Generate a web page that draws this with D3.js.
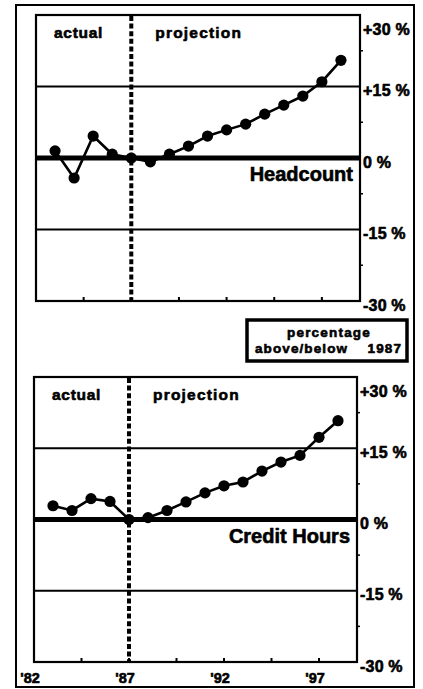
<!DOCTYPE html>
<html>
<head>
<meta charset="utf-8">
<script src="https://cdn.jsdelivr.net/npm/d3@7"></script>
<style>
  html, body { margin: 0; padding: 0; background: #fff; }
  svg { display: block; }
  text { font-family: "Liberation Sans", Arial, Helvetica, sans-serif; font-weight: bold; fill: #000;
         stroke: #000; stroke-width: 0.6px; stroke-linejoin: round; }
</style>
</head>
<body>
<svg id="chart" width="423" height="689"></svg>
<script>
// Years on the horizontal axis
const years = [1983, 1984, 1985, 1986, 1987, 1988, 1989, 1990, 1991, 1992,
               1993, 1994, 1995, 1996, 1997, 1998];

// Percentage above/below 1987
const headcount = [1.5, -4.2, 4.6, 0.8, 0, -0.8, 0.8, 2.5, 4.6, 5.9,
                   7.1, 9.2, 11.1, 13.0, 16.0, 20.5];
const creditHours = [2.9, 1.9, 4.4, 3.8, 0, 0.4, 1.9, 3.7, 5.6, 7.1,
                     7.9, 10.2, 12.1, 13.5, 17.3, 20.8];

const baseYear = 1987;
const yearDomain = [1982, 1999];
const yearTicks = [1982, 1987, 1992, 1997];
const minorYearTicks = [1984.5, 1987, 1989.5, 1992, 1994.5, 1997];
const pctTicks = [30, 15, 0, -15, -30];
const minorPctTicks = [22.5, 7.5, -7.5, -22.5];
const pctLabels = ["+30 %", "+15 %", "0 %", "-15 %", "-30 %"];

const svg = d3.select("#chart");

// outer frame
svg.append("rect")
  .attr("x", 16).attr("y", 5).attr("width", 398).attr("height", 682)
  .attr("fill", "none").attr("stroke", "#000").attr("stroke-width", 2);

function panel(cfg) {
  const x = d3.scaleLinear().domain(yearDomain).range([cfg.left, cfg.right]);
  const y = d3.scaleLinear().domain([30, -30]).range([cfg.top, cfg.bottom]);
  const g = svg.append("g");

  // gridlines at +/-15
  g.selectAll("line.grid").data([15, -15]).join("line")
    .attr("x1", cfg.left).attr("x2", cfg.right)
    .attr("y1", d => y(d)).attr("y2", d => y(d))
    .attr("stroke", "#000").attr("stroke-width", 2);

  // plot box
  g.append("rect")
    .attr("x", cfg.left).attr("y", cfg.top)
    .attr("width", cfg.right - cfg.left).attr("height", cfg.bottom - cfg.top)
    .attr("fill", "none").attr("stroke", "#000").attr("stroke-width", 2.2);

  // minor ticks on the bottom edge
  g.selectAll("line.xtick").data(minorYearTicks).join("line")
    .attr("x1", d => x(d)).attr("x2", d => x(d))
    .attr("y1", cfg.bottom).attr("y2", cfg.bottom - 4)
    .attr("stroke", "#000").attr("stroke-width", 2);

  // minor ticks on the right edge
  g.selectAll("line.ytick").data(minorPctTicks).join("line")
    .attr("x1", cfg.right).attr("x2", cfg.right + 3)
    .attr("y1", d => y(d)).attr("y2", d => y(d))
    .attr("stroke", "#000").attr("stroke-width", 1.5);

  // zero baseline
  g.append("line")
    .attr("x1", cfg.left).attr("x2", cfg.right)
    .attr("y1", y(0)).attr("y2", y(0))
    .attr("stroke", "#000").attr("stroke-width", 5);

  // actual / projection divider
  g.append("line")
    .attr("x1", x(baseYear)).attr("x2", x(baseYear))
    .attr("y1", cfg.top + 1).attr("y2", cfg.bottom)
    .attr("stroke", "#000").attr("stroke-width", 4)
    .attr("stroke-dasharray", "5,2.6");

  g.append("text").attr("x", cfg.left + 18).attr("y", cfg.top + 23)
    .attr("font-size", 15.5).attr("letter-spacing", 0.7)
    .text("actual");
  g.append("text").attr("x", x(baseYear) + 24).attr("y", cfg.top + 23)
    .attr("font-size", 15.5).attr("letter-spacing", 1.2)
    .text("projection");

  // series line and dots
  const line = d3.line().x(d => x(d[0])).y(d => y(d[1]));
  const pts = years.map((yr, i) => [yr, cfg.values[i]]);
  g.append("path").datum(pts)
    .attr("d", line).attr("fill", "none")
    .attr("stroke", "#000").attr("stroke-width", 2.6);
  g.selectAll("circle").data(pts).join("circle")
    .attr("cx", d => x(d[0])).attr("cy", d => y(d[1]))
    .attr("r", 5.6).attr("fill", "#000");

  // series name
  g.append("text").attr("x", cfg.right - 7).attr("y", y(0) + 23)
    .attr("text-anchor", "end").attr("font-size", 20)
    .text(cfg.name);

  // right-hand percentage labels
  g.selectAll("text.pct").data(pctTicks).join("text")
    .attr("x", cfg.right + 3)
    .attr("y", d => Math.max(y(d) + 4, cfg.top + 14))
    .attr("dy", "0.35em")
    .attr("font-size", 16).attr("letter-spacing", 0.2)
    .text((d, i) => pctLabels[i]);

  if (cfg.yearLabels) {
    g.selectAll("text.yr").data(yearTicks).join("text")
      .attr("x", d => x(d) - 4).attr("y", cfg.bottom + 21)
      .attr("text-anchor", "middle").attr("font-size", 14.5)
      .text(d => "'" + String(d).slice(2));
  }
}

panel({ left: 36, right: 360, top: 15, bottom: 301, values: headcount, name: "Headcount" });
panel({ left: 34, right: 357, top: 377, bottom: 662, values: creditHours, name: "Credit Hours", yearLabels: true });

// legend box
const lg = svg.append("g");
lg.append("rect")
  .attr("x", 247).attr("y", 320).attr("width", 160).attr("height", 41)
  .attr("fill", "#fff").attr("stroke", "#000").attr("stroke-width", 3.5);
lg.append("text").attr("x", 329).attr("y", 337)
  .attr("text-anchor", "middle").attr("font-size", 13.5).attr("letter-spacing", 1.2)
  .text("percentage");
lg.append("text").attr("x", 255).attr("y", 353)
  .attr("font-size", 13.5).attr("letter-spacing", 1.1)
  .text("above/below");
lg.append("text").attr("x", 402).attr("y", 353)
  .attr("text-anchor", "end").attr("font-size", 13.5).attr("letter-spacing", 1.1)
  .text("1987");
</script>
</body>
</html>
